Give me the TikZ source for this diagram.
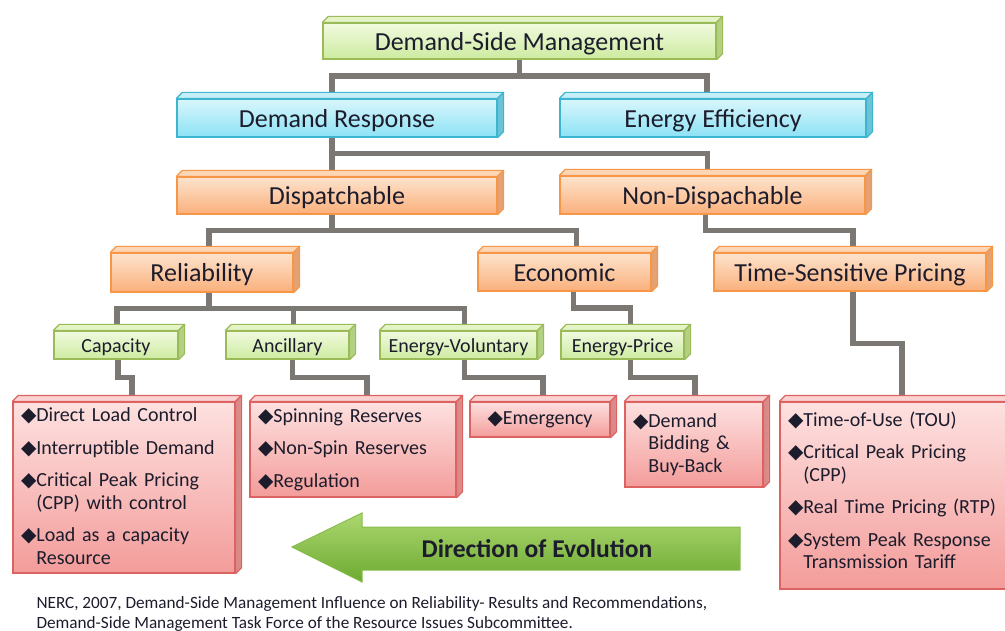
\documentclass[tikz,border=0pt]{standalone}
\usepackage{fontspec}
\setmainfont{Carlito}
\newfontfamily\symfont{DejaVu Sans}
\usetikzlibrary{calc,backgrounds}

% face top / face bottom / outline / top bevel / side bevel
\definecolor{fag}{HTML}{F1FADF}\definecolor{fbg}{HTML}{CDEBA0}\definecolor{lng}{HTML}{9BBB59}
\definecolor{tpg}{HTML}{E4F4C6}\definecolor{sdg}{HTML}{B3D183}
\definecolor{fac}{HTML}{D9F6FC}\definecolor{fbc}{HTML}{8CE2F5}\definecolor{lnc}{HTML}{3DB5D0}
\definecolor{tpc}{HTML}{C6EFF9}\definecolor{sdc}{HTML}{6CC3D6}
\definecolor{fao}{HTML}{FDE3CD}\definecolor{fbo}{HTML}{FAB07B}\definecolor{lno}{HTML}{F79646}
\definecolor{tpo}{HTML}{FDD6B6}\definecolor{sdo}{HTML}{E4A273}
\definecolor{far}{HTML}{FDE1E0}\definecolor{fbr}{HTML}{F39C9A}\definecolor{lnr}{HTML}{DD6362}
\definecolor{tpr}{HTML}{FAD2D1}\definecolor{sdr}{HTML}{D98B89}
\definecolor{linkc}{HTML}{7B7874}
\definecolor{textc}{HTML}{1C1C2C}
\definecolor{arrtop}{HTML}{ACD770}\definecolor{arrmid}{HTML}{8DC64D}\definecolor{arrbot}{HTML}{6DAA31}
\definecolor{arrline}{HTML}{86BC4E}

\newcommand{\dia}{{\symfont ◆}}

\tikzset{
  facebox/.style={draw=ln#1, top color=fa#1, bottom color=fb#1, line width=1.2pt,
    inner sep=0pt, text=textc},
  head/.style={facebox=#1, font=\fontsize{26}{30}\selectfont, text height=19pt, text depth=0pt},
  sub/.style={facebox=g, font=\fontsize{20}{24}\selectfont, text height=15.5pt, text depth=0pt},
  list/.style={facebox=r, font=\fontsize{20}{22.5}\selectfont, align=left, inner xsep=8pt},
  link/.style={draw=linkc, line width=5.5pt},
}

\begin{document}
\begin{tikzpicture}[x=1pt,y=-1pt]
  \useasboundingbox (0,0) rectangle (1005,631);
  % top rows (pixel coordinates, y downwards)
  \node[head=g, minimum width=393, minimum height=36] (dsm) at (519.5,41) {Demand-Side Management};
  \node[head=c, minimum width=320, minimum height=38] (dr) at (337,118) {Demand Response};
  \node[head=c, minimum width=306, minimum height=38] (ee) at (713,118) {Energy Efficiency};
  \node[head=o, minimum width=320, minimum height=37] (disp) at (337,195.5) {Dispatchable};
  \node[head=o, minimum width=305, minimum height=38] (nondisp) at (712.5,195) {Non-Dispachable};
  \node[head=o, minimum width=182, minimum height=39] (rel) at (202,272.5) {Reliability};
  \node[head=o, minimum width=173, minimum height=38] (eco) at (564.5,272) {Economic};
  \node[head=o, minimum width=272, minimum height=38] (tsp) at (850,272) {Time-Sensitive Pricing};
  % programme types
  \node[sub, minimum width=124, minimum height=28] (cap) at (116,345) {Capacity};
  \node[sub, minimum width=123, minimum height=28] (anc) at (287.5,345) {Ancillary};
  \node[sub, minimum width=157, minimum height=28] (ev) at (458.5,345) {Energy-Voluntary};
  \node[sub, minimum width=123, minimum height=28] (ep) at (622.5,345) {Energy-Price};
  % programmes
  \node[list, text width=206, minimum height=171] (b1) at (124,487.5)
    {\dia Direct Load Control\\[10pt]
     \dia Interruptible Demand\\[10pt]
     \dia Critical Peak Pricing\\ \phantom{\dia}(CPP) with control\\[10pt]
     \dia Load as a capacity\\ \phantom{\dia}Resource};
  \node[list, text width=190, minimum height=95] (b2) at (353,449.5)
    {\dia Spinning Reserves\\[10pt]
     \dia Non-Spin Reserves\\[10pt]
     \dia Regulation};
  \node[facebox=r, font=\fontsize{20}{22.5}\selectfont, minimum width=140, minimum height=35] (b3) at (540,419.5)
    {\dia Emergency};
  \node[list, text width=122, minimum height=85] (b4) at (694,444.5)
    {\dia Demand\\ \phantom{\dia}Bidding \&\\ \phantom{\dia}Buy-Back};
  \node[list, text width=228, minimum height=187] (b5) at (902,495.5)
    {\dia Time-of-Use (TOU)\\[10pt]
     \dia Critical Peak Pricing\\ \phantom{\dia}(CPP)\\[10pt]
     \dia Real Time Pricing (RTP)\\[10pt]
     \dia System Peak Response\\ \phantom{\dia}Transmission Tariff\\[-12pt]\mbox{}};
  % bevels
  \foreach \n/\k in {dsm/g,dr/c,ee/c,disp/o,nondisp/o,rel/o,eco/o,tsp/o,cap/g,anc/g,ev/g,ep/g,b1/r,b2/r,b3/r,b4/r,b5/r}{
    \filldraw[fill=tp\k, draw=ln\k, line width=1.2pt, line join=round]
      (\n.north west) -- ++(6,-6) -- ([shift={(6,-6)}]\n.north east) -- (\n.north east) -- cycle;
    \filldraw[fill=sd\k, draw=ln\k, line width=1.2pt, line join=round]
      (\n.north east) -- ++(6,-6) -- ([shift={(6,-6)}]\n.south east) -- (\n.south east) -- cycle;
  }
  % connectors
  \begin{scope}[on background layer]
    \foreach \a/\xa/\b/\xb in {dsm/0/dr/-5, dsm/0/ee/-6, dr/-5/disp/-5, dr/-5/nondisp/-5,
        disp/-5/rel/7, disp/-5/eco/12, nondisp/-7/tsp/3, rel/7/cap/1, rel/7/anc/6, rel/7/ev/6,
        eco/9/ep/8, cap/2/b1/8, anc/5/b2/14, ev/6/b3/3, ep/8/b4/1, tsp/3/b5/0}
      \draw[link] ([xshift=\xa]\a.south) |- ($([xshift=\xa]\a.south)!.5!([shift={(\xb,-6)}]\b.north)$)
        -| ([shift={(\xb,-6)}]\b.north);
  \end{scope}
  % arrow
  \shade[top color=arrtop, middle color=arrmid, bottom color=arrbot, draw=arrline, line width=1pt]
    (740,527) -- (362,527) -- (362,513) -- (292,547) -- (362,582) -- (362,570) -- (740,570) -- cycle;
  \node[text=textc, font=\bfseries\fontsize{25.6}{30}\selectfont] (evo) at (537,549) {Direction of Evolution};
  % source
  \node[anchor=west, align=left, text=textc, font=\fontsize{17.2}{20}\selectfont] (src) at (33,614)
    {NERC, 2007, Demand-Side Management Influence on Reliability- Results and Recommendations,\\
     Demand-Side Management Task Force of the Resource Issues Subcommittee.};
\end{tikzpicture}
\end{document}
